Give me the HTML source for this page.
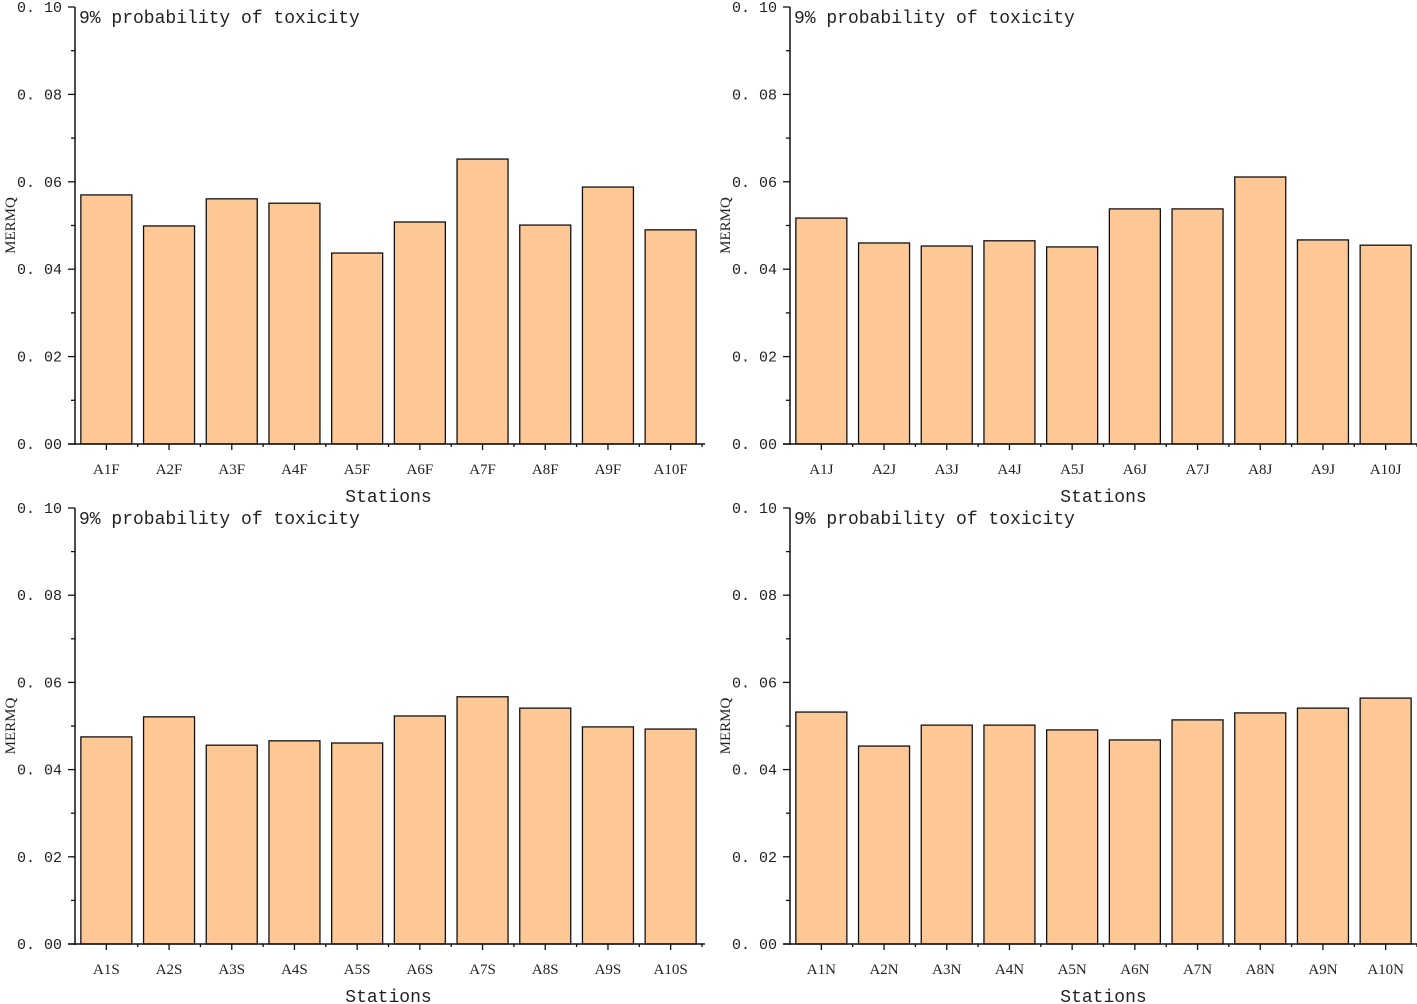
<!DOCTYPE html>
<html><head><meta charset="utf-8"><style>
html,body{margin:0;padding:0;background:#fff;}
svg{display:block;}
text{fill:#222;}
.tick{font-family:"Liberation Mono","Noto Serif CJK SC",monospace;font-size:15px;}
.cat{font-family:"Liberation Serif","Noto Serif CJK SC",serif;font-size:15px;}
.note{font-family:"Liberation Mono","Noto Serif CJK SC",monospace;font-size:18px;}
.ttl{font-family:"Liberation Mono",monospace;font-size:18px;}
</style></head><body>
<svg id="chart" width="1417" height="1004" xmlns="http://www.w3.org/2000/svg"></svg>
<script>
const catsF = ["A1F","A2F","A3F","A4F","A5F","A6F","A7F","A8F","A9F","A10F"];
const valsF = [0.0570,0.0499,0.0561,0.0551,0.0437,0.0508,0.0652,0.0501,0.0588,0.0490];
const catsJ = ["A1J","A2J","A3J","A4J","A5J","A6J","A7J","A8J","A9J","A10J"];
const valsJ = [0.0517,0.0460,0.0453,0.0465,0.0451,0.0538,0.0538,0.0611,0.0467,0.0455];
const catsS = ["A1S","A2S","A3S","A4S","A5S","A6S","A7S","A8S","A9S","A10S"];
const valsS = [0.0475,0.0521,0.0456,0.0466,0.0461,0.0523,0.0567,0.0541,0.0498,0.0493];
const catsN = ["A1N","A2N","A3N","A4N","A5N","A6N","A7N","A8N","A9N","A10N"];
const valsN = [0.0532,0.0454,0.0502,0.0502,0.0491,0.0468,0.0514,0.0530,0.0541,0.0564];
const yTicks = [0,0.02,0.04,0.06,0.08,0.10];
const yTickLabels = ["0. 00","0. 02","0. 04","0. 06","0. 08","0. 10"];

const NS="http://www.w3.org/2000/svg";
const svg=document.getElementById('chart');
function mk(tag,attrs,parent){const e=document.createElementNS(NS,tag);for(const k in attrs)e.setAttribute(k,attrs[k]);(parent||svg).appendChild(e);return e;}

function panel(name,cats,vals,x0,x1,yTop,yBot){
  const g=mk('g',{});
  
  
  const yS=v=>yBot-(v/0.10)*(yBot-yTop);
  const step=(x1-x0)/cats.length;
  const xC=i=>x0+step*(i+0.5);
  const bw=51;
  vals.forEach((v,i)=>{
    const r=mk('rect',{x:xC(i)-bw/2,y:yS(v),width:bw,height:yBot-yS(v),fill:'#fdc896',stroke:'#111','stroke-width':1.3},g);
    
    
  });
  // axes
  const ya=mk('line',{x1:x0,y1:yTop,x2:x0,y2:yBot+1,stroke:'#111','stroke-width':1.5},g);
  
  const xa=mk('line',{x1:x0-7,y1:yBot,x2:x1+3,y2:yBot,stroke:'#111','stroke-width':1.5},g);
  
  yTicks.forEach((t,i)=>{
    const y=yS(t);
    mk('line',{x1:x0-7,y1:y,x2:x0,y2:y,stroke:'#111','stroke-width':1.3},g);
    const tx=mk('text',{x:x0-13,y:y+5,'text-anchor':'end',class:'tick'},g);
    tx.textContent=yTickLabels[i];
    
    if(i<yTicks.length-1){const ym=yS(t+0.01);mk('line',{x1:x0-4,y1:ym,x2:x0,y2:ym,stroke:'#111','stroke-width':1.3},g);}
  });
  cats.forEach((c,i)=>{
    mk('line',{x1:xC(i),y1:yBot,x2:xC(i),y2:yBot+6,stroke:'#111','stroke-width':1.3},g);
    mk('line',{x1:x0+step*(i+1),y1:yBot,x2:x0+step*(i+1),y2:yBot+3,stroke:'#111','stroke-width':1.3},g);
    const t=mk('text',{x:xC(i),y:yBot+30,'text-anchor':'middle',class:'cat'},g);
    t.textContent=c;
    
  });
  const xt=mk('text',{x:(x0+x1)/2,y:yBot+58,'text-anchor':'middle',class:'ttl'},g);
  xt.textContent='Stations';
  const yt=mk('text',{x:0,y:0,'text-anchor':'middle',class:'cat',transform:`translate(${x0-60},${(yTop+yBot)/2}) rotate(-90)`},g);
  yt.textContent='MERMQ';
  const nt=mk('text',{x:x0+4,y:yTop+16,class:'note'},g);
  nt.textContent='9% probability of toxicity';
}
panel('panel-f',catsF,valsF,75,702,7,444);
panel('panel-j',catsJ,valsJ,790,1417,7,444);
panel('panel-s',catsS,valsS,75,702,508,944);
panel('panel-n',catsN,valsN,790,1417,508,944);
</script>
</body></html>
